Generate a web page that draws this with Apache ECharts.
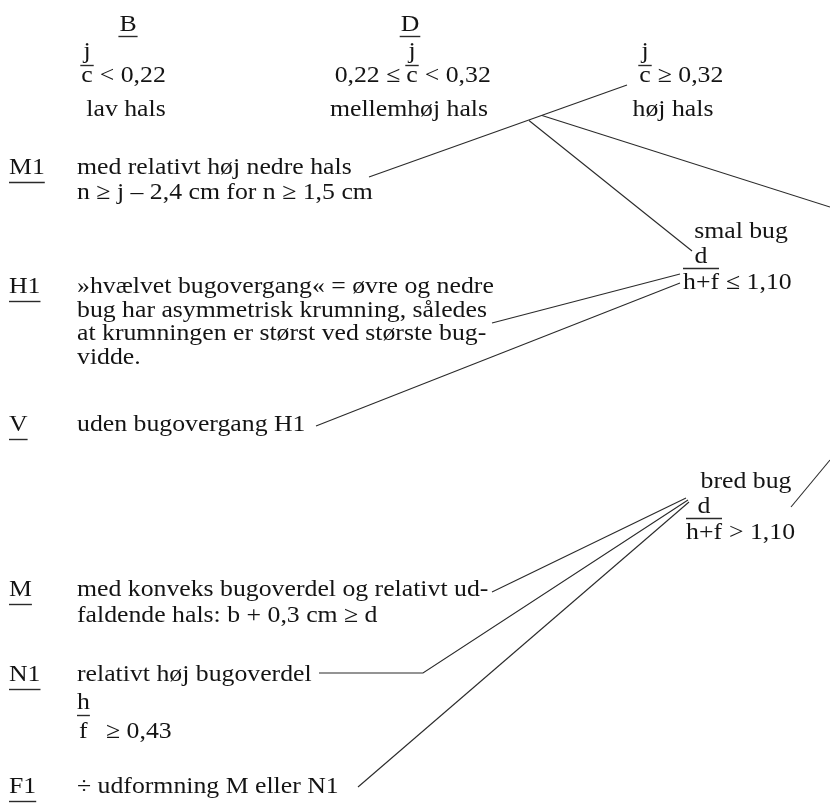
<!DOCTYPE html>
<html><head><meta charset="utf-8">
<script src="https://cdn.jsdelivr.net/npm/echarts@6/dist/echarts.min.js"></script>
<style>html,body{margin:0;padding:0;background:#fff}#c{width:830px;height:803px}</style>
</head><body><div id="c"></div>
<script>
// ---------- neck classes (header) ----------
const neckCodes   = ['B', 'D', ''];
const neckPrefix  = ['', '0,22 ≤', ''];
const neckSuffix  = ['< 0,22', '< 0,32', '≥ 0,32'];
const neckNames   = ['lav hals', 'mellemhøj hals', 'høj hals'];
const neckFracX   = [87, 412, 645];     // x of the j / c fraction
const neckCodeX   = [128, 410, null];
const neckNameX   = [126, 409, 673];

// ---------- type rows (left) ----------
const typeCodes = ['M1', 'H1', 'V', 'M', 'N1', 'F1'];
const typeTexts = [
  ['med relativt høj nedre hals', 'n ≥ j – 2,4 cm for n ≥ 1,5 cm'],
  ['»hvælvet bugovergang« = øvre og nedre', 'bug har asymmetrisk krumning, således',
   'at krumningen er størst ved største bug-', 'vidde.'],
  ['uden bugovergang H1'],
  ['med konveks bugoverdel og relativt ud-', 'faldende hals: b + 0,3 cm ≥ d'],
  ['relativt høj bugoverdel'],
  ['÷ udformning M eller N1']
];
const typeLineY = [[168, 193], [287, 311, 334, 358], [425], [590, 616], [675], [787]];
const n1Ratio = ['h', 'f', '≥ 0,43'];

// ---------- belly classes (right) ----------
const bellyNames  = ['smal bug', 'bred bug'];
const bellyConds  = ['≤ 1,10', '> 1,10'];
const bellyNameX  = [741, 746];
const bellyNameY  = [232, 482];
const bellyFracX  = [683, 686];

// ---------- connector lines (diagram coordinates) ----------
const connectors = [
  [[627, 85], [369, 177]],
  [[529, 120.5], [692, 251]],
  [[542, 115.5], [830, 207]],
  [[680, 274], [492, 323]],
  [[680, 283], [316, 426]],
  [[791, 507], [830, 460]],
  [[686, 498], [492, 592]],
  [[688, 500], [423, 673], [319, 673]],
  [[689, 502], [358, 787]]
];

// ---------- build ----------
const FONT = '23px "Liberation Serif"';
const SX = 1.12;
const COLOR = '#141414';
const mctx = document.createElement('canvas').getContext('2d');
mctx.font = FONT;
const tw = t => mctx.measureText(t).width * SX;

const texts = [];
const rules = [];
function T(t, x, y, align) { texts.push({ t, x, y, align: align || 'left' }); }
function R(x1, x2, y) { rules.push({ coords: [[x1, y], [x2, y]] }); }

// header
neckCodes.forEach((code, i) => {
  const fx = neckFracX[i];
  if (code) {
    T(code, neckCodeX[i], 25, 'center');
    const w = tw(code);
    R(neckCodeX[i] - w / 2 - 1, neckCodeX[i] + w / 2 + 1, 36);
  }
  const cw = tw('c');
  T('j', fx, 52, 'center');
  R(fx - cw / 2 - 1, fx + cw / 2 + 1, 65);
  T('c', fx, 76, 'center');
  if (neckPrefix[i]) T(neckPrefix[i], fx - cw / 2 - 6, 76, 'right');
  T(neckSuffix[i], fx + cw / 2 + 7, 76, 'left');
  T(neckNames[i], neckNameX[i], 110, 'center');
});

// rows
typeCodes.forEach((code, i) => {
  const y0 = typeLineY[i][0];
  T(code, 9, y0, 'left');
  R(9, 9 + tw(code), y0 + 14);
  typeTexts[i].forEach((line, k) => T(line, 77, typeLineY[i][k], 'left'));
});
// N1 ratio h / f >= 0,43
{
  const y = typeLineY[4][0];
  const hw = tw(n1Ratio[0]);
  T(n1Ratio[0], 77, y + 28, 'left');
  R(77, 77 + hw, y + 40);
  T(n1Ratio[1], 79, y + 57, 'left');
  T(n1Ratio[2], 106, y + 57, 'left');
}

// belly
bellyNames.forEach((name, i) => {
  const y = bellyNameY[i], fx = bellyFracX[i];
  T(name, bellyNameX[i], y, 'center');
  const w = tw('h+f');
  T('d', fx + w / 2, y + 25, 'center');
  R(fx, fx + w, y + 36);
  T('h+f', fx, y + 51, 'left');
  T(bellyConds[i], fx + w + 7, y + 51, 'left');
});

const chart = echarts.init(document.getElementById('c'), null, { renderer: 'canvas' });
chart.setOption({
  animation: false,
  backgroundColor: '#fff',
  grid: { left: 0, right: 0, top: 0, bottom: 0 },
  xAxis: { type: 'value', min: 0, max: 830, show: false },
  yAxis: { type: 'value', min: 0, max: 803, inverse: true, show: false },
  series: [
    {
      type: 'lines', coordinateSystem: 'cartesian2d', polyline: true, silent: true,
      data: connectors.map(c => ({ coords: c })),
      lineStyle: { color: '#2a2a2a', width: 1.1, opacity: 1 }
    },
    {
      type: 'lines', coordinateSystem: 'cartesian2d', silent: true,
      data: rules,
      lineStyle: { color: '#2a2a2a', width: 1.4, opacity: 1 }
    },
    {
      type: 'custom', coordinateSystem: 'cartesian2d', silent: true, clip: false,
      data: texts.map((d, i) => [d.x, d.y, i]),
      renderItem: function (params, api) {
        const it = texts[api.value(2)];
        const p = api.coord([api.value(0), api.value(1)]);
        return {
          type: 'text', x: p[0], y: p[1], scaleX: SX,
          style: {
            text: it.t, font: FONT, fill: COLOR,
            align: it.align, verticalAlign: 'middle',
            textAlign: it.align, textVerticalAlign: 'middle'
          }
        };
      }
    }
  ]
});
</script></body></html>
